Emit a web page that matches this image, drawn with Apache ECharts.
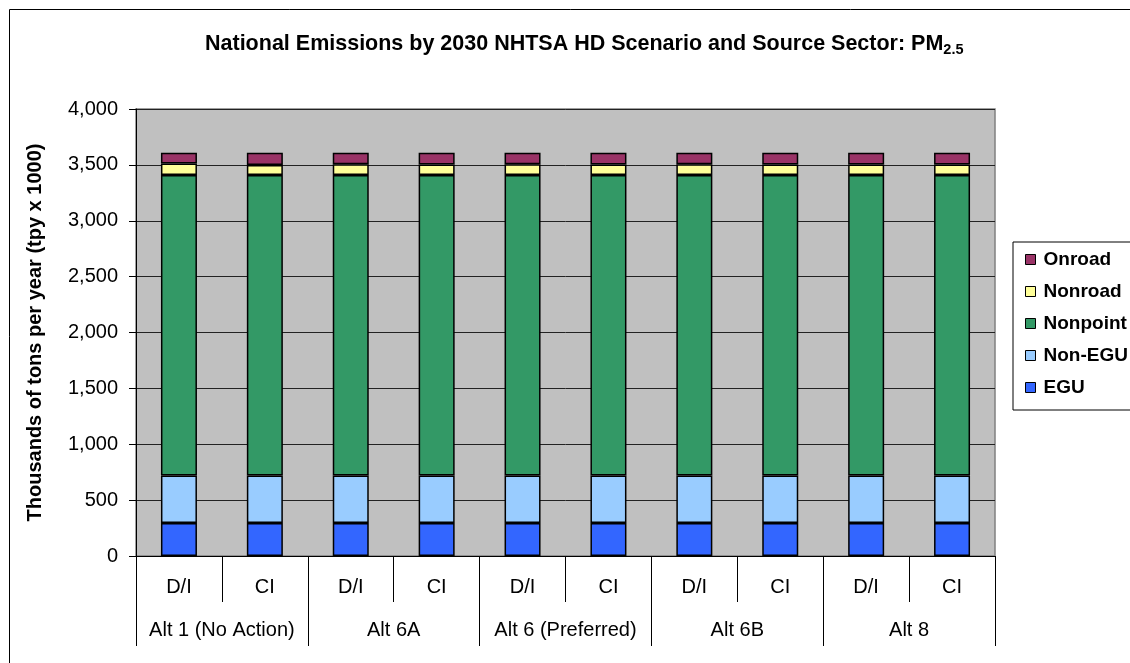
<!DOCTYPE html>
<html>
<head>
<meta charset="utf-8">
<script src="https://cdn.jsdelivr.net/npm/echarts@6/dist/echarts.min.js"></script>
<style>
html,body{margin:0;padding:0;background:#fff;overflow:hidden;}
#chart{width:1130px;height:663px;}
</style>
</head>
<body>
<div id="chart"></div>
<script>
// ---- Data ----
const subCategories = ['D/I','CI','D/I','CI','D/I','CI','D/I','CI','D/I','CI'];
const groupCategories = ['Alt 1 (No Action)','Alt 6A','Alt 6 (Preferred)','Alt 6B','Alt 8'];
const egu      = [295,295,295,295,295,295,295,295,295,295];
const nonEgu   = [425,425,425,425,425,425,425,425,425,425];
const nonpoint = [2690,2690,2690,2690,2690,2690,2690,2690,2690,2690];
const nonroad  = [103,88,96,94,95,94,95,93,93,93];
const onroad   = [96,111,103,105,104,105,104,106,106,106];
const yTicks = [0,500,1000,1500,2000,2500,3000,3500,4000];

const seriesDefs = [
  {name:'EGU', data:egu, color:'#3366FF'},
  {name:'Non-EGU', data:nonEgu, color:'#99CCFF'},
  {name:'Nonpoint', data:nonpoint, color:'#339966'},
  {name:'Nonroad', data:nonroad, color:'#FFFF99'},
  {name:'Onroad', data:onroad, color:'#993366'}
];

const chart = echarts.init(document.getElementById('chart'));
const font = 'Liberation Sans, Arial, sans-serif';

chart.setOption({
  animation:false,
  backgroundColor:'#fff',
  title:{
    text:'{a|National Emissions by 2030 NHTSA HD Scenario and Source Sector: PM}{s|2.5}',
    left:200, top:27,
    textStyle:{
      rich:{
        a:{fontFamily:font,fontSize:21.5,fontWeight:'bold',color:'#000'},
        s:{fontFamily:font,fontSize:14.5,fontWeight:'bold',color:'#000',padding:[10,0,0,0]}
      }
    }
  },
  legend:{
    orient:'vertical',
    left:1013, top:242,
    data:['Onroad','Nonroad','Nonpoint','Non-EGU','EGU'],
    itemWidth:10, itemHeight:10, itemGap:13,
    padding:[8,40,13,12],
    borderColor:'#000', borderWidth:1,
    icon:'rect',
    itemStyle:{borderColor:'#000',borderWidth:1},
    textStyle:{fontFamily:font,fontSize:19,fontWeight:'bold',color:'#000',padding:[0,0,0,3]}
  },
  graphic:[{
    type:'rect', left:7, top:7, silent:true,
    shape:{width:1150,height:680},
    style:{fill:'none',stroke:'#000',lineWidth:1}
  }],
  grid:{
    left:136, right:135, top:109, bottom:107,
    show:true, backgroundColor:'#C0C0C0', borderColor:'#808080', borderWidth:1.5
  },
  xAxis:[{
    type:'category', data:subCategories, position:'bottom',
    axisLine:{show:true,lineStyle:{color:'#000',width:1}},
    axisTick:{show:true,length:46,interval:0,lineStyle:{color:'#000',width:1}},
    axisLabel:{interval:0,margin:21,fontFamily:font,fontSize:20,color:'#000'},
    splitLine:{show:false}
  },{
    type:'category', data:groupCategories, position:'bottom',
    axisLine:{show:false},
    axisTick:{show:true,length:90,interval:0,lineStyle:{color:'#000',width:1}},
    axisLabel:{interval:0,margin:64,fontFamily:font,fontSize:20,color:'#000'},
    splitLine:{show:false}
  }],
  yAxis:{
    type:'value', min:yTicks[0], max:yTicks[yTicks.length-1], interval:500,
    name:'Thousands of tons per year (tpy x 1000)',
    nameLocation:'middle', nameGap:91,
    nameTextStyle:{fontFamily:font,fontSize:20,fontWeight:'bold',color:'#000'},
    axisLine:{show:true,lineStyle:{color:'#000',width:1}},
    axisTick:{show:true,length:7,lineStyle:{color:'#000'}},
    axisLabel:{margin:18,fontFamily:font,fontSize:20,color:'#000',
      formatter:v=>v.toLocaleString('en-US')},
    splitLine:{show:true,lineStyle:{color:'#222',width:1}}
  },
  series:seriesDefs.map(s=>({
    name:s.name, type:'bar', stack:'total', xAxisIndex:0,
    data:s.data, barWidth:36,
    itemStyle:{color:s.color,borderColor:'#000',borderWidth:1.5}
  }))
});
</script>
</body>
</html>
